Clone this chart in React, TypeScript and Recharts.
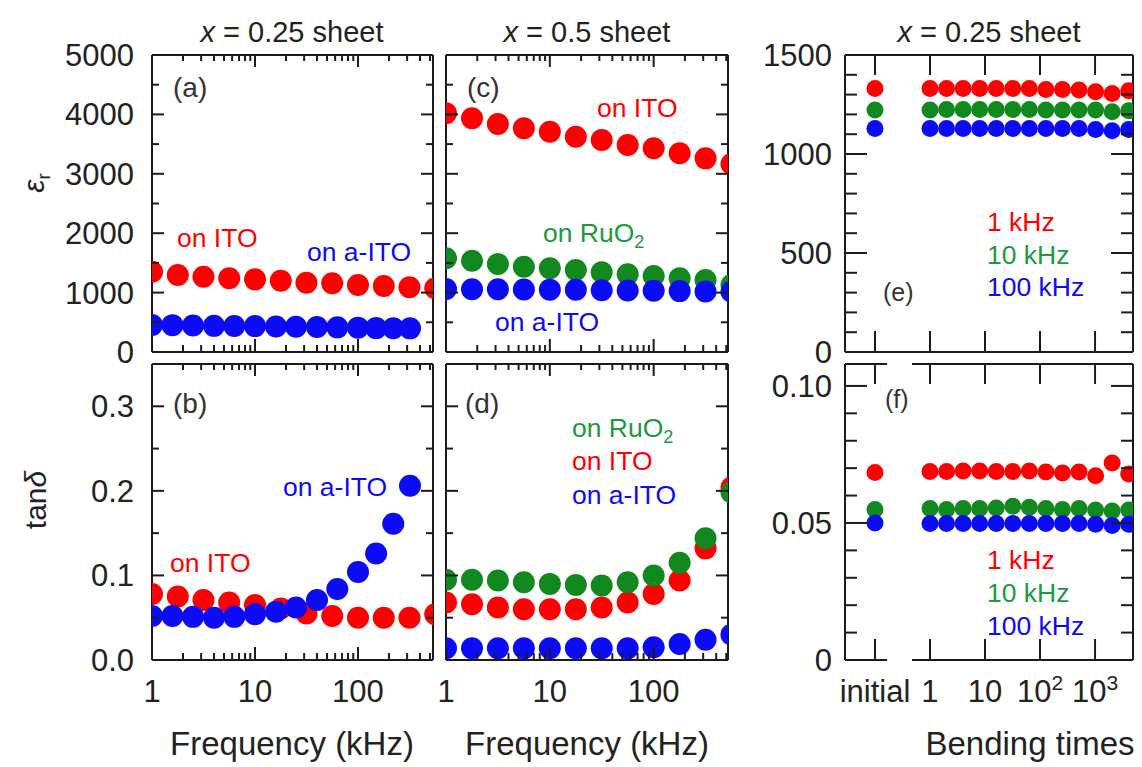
import type { ReactNode } from 'react';
import { ScatterChart, Scatter, XAxis, YAxis, ReferenceLine } from 'recharts';

const FONT = '"Liberation Sans", Arial, Helvetica, sans-serif';
const INK = '#222222';
const FRAME = '#1c1c1c';
const RED = '#ff0000';
const GREEN = '#11891f';
const BLUE = '#0b0bf5';
const GREEN_TEXT = '#1b9a3f';

// frequency grids (kHz)
const FREQ_QUARTER = [1, 1.78, 3.16, 5.62, 10, 17.8, 31.6, 56.2, 100, 178, 316, 562];
const FREQ_AITO_X025 = [1, 1.58, 2.5, 4, 6.3, 10, 16, 25, 40, 63, 100, 150, 220, 320];

// (a) eps_r, x = 0.25
const EPS_ITO_X025 = [1352, 1296, 1268, 1240, 1223, 1201, 1167, 1156, 1128, 1111, 1089, 1072];
const EPS_AITO_X025 = [455, 452, 445, 440, 438, 436, 430, 426, 420, 415, 410, 402, 400, 398];

// (b) tan delta, x = 0.25
const TAN_ITO_X025 = [0.078, 0.075, 0.071, 0.068, 0.065, 0.061, 0.055, 0.052, 0.05, 0.05, 0.05, 0.054];
const TAN_AITO_X025 = [0.052, 0.052, 0.051, 0.05, 0.051, 0.054, 0.057, 0.062, 0.071, 0.084, 0.104, 0.126, 0.161, 0.206];

// (c) eps_r, x = 0.5
const EPS_ITO_X05 = [4018, 3934, 3838, 3766, 3709, 3625, 3569, 3485, 3429, 3345, 3260, 3165];
const EPS_RUO2_X05 = [1577, 1537, 1481, 1436, 1409, 1380, 1342, 1308, 1279, 1240, 1212, 1128];
const EPS_AITO_X05 = [1060, 1058, 1055, 1052, 1050, 1048, 1040, 1035, 1030, 1025, 1020, 1015];

// (d) tan delta, x = 0.5
const TAN_ITO_X05 = [0.068, 0.066, 0.062, 0.06, 0.06, 0.06, 0.062, 0.068, 0.078, 0.094, 0.132, 0.204];
const TAN_RUO2_X05 = [0.0948, 0.0948, 0.094, 0.092, 0.09, 0.0888, 0.088, 0.092, 0.1, 0.115, 0.144, 0.198];
const TAN_AITO_X05 = [0.014, 0.014, 0.014, 0.014, 0.014, 0.014, 0.014, 0.014, 0.015, 0.019, 0.024, 0.03];

// (e)(f) bending test, x = 0.25
const BEND_TIMES = [1, 2, 4, 8, 16, 32, 64, 128, 256, 512, 1024, 2048, 4096];
const INITIAL_X = 0.1; // the "initial" state sits one decade left of 1 bend
const EPS_INITIAL = [1331, 1222, 1129]; // 1, 10, 100 kHz
const EPS_BEND_1K = [1331, 1331, 1331, 1331, 1331, 1331, 1331, 1326, 1326, 1323, 1314, 1306, 1320];
const EPS_BEND_10K = [1222, 1225, 1225, 1225, 1225, 1225, 1225, 1222, 1222, 1222, 1222, 1213, 1218];
const EPS_BEND_100K = [1129, 1129, 1129, 1129, 1129, 1129, 1129, 1129, 1129, 1129, 1124, 1117, 1124];
const TAN_INITIAL = [0.0684, 0.0549, 0.05];
const TAN_BEND_1K = [0.0688, 0.0688, 0.069, 0.069, 0.0688, 0.0688, 0.069, 0.0686, 0.0682, 0.0686, 0.0672, 0.0719, 0.0679];
const TAN_BEND_10K = [0.0553, 0.0549, 0.0553, 0.0553, 0.0555, 0.0561, 0.0557, 0.0553, 0.0549, 0.0553, 0.0547, 0.0544, 0.0547];
const TAN_BEND_100K = [0.0498, 0.0498, 0.0498, 0.0498, 0.0498, 0.0498, 0.0498, 0.0498, 0.0498, 0.0498, 0.0495, 0.0491, 0.0495];

// ticks
const FREQ_MAJOR = [1, 10, 100];
const FREQ_MINOR = [2, 3, 4, 5, 6, 7, 8, 9, 20, 30, 40, 50, 60, 70, 80, 90, 200, 300, 400, 500];
const EPS_MAJOR = [0, 1000, 2000, 3000, 4000, 5000];
const EPS_MINOR = [500, 1500, 2500, 3500, 4500];
const TAN_MAJOR = [0, 0.1, 0.2, 0.3];
const TAN_MINOR = [0.05, 0.15, 0.25];
const BEND_TICKS = [0.1, 1, 10, 100, 1000];
const BEND_TICK_TEXT = ['initial', '1', '10', '10', '10'];
const BEND_TICK_SUP = ['', '', '', '2', '3'];
const BEND_EPS_MAJOR = [0, 500, 1000, 1500];
const BEND_EPS_MINOR = [100, 200, 300, 400, 600, 700, 800, 900, 1100, 1200, 1300, 1400];
const BEND_TAN_MAJOR = [0, 0.05, 0.1];
const BEND_TAN_MINOR = [0.01, 0.02, 0.03, 0.04, 0.06, 0.07, 0.08, 0.09];
const BEND_GAP = [0.166, 0.47]; // axis break between "initial" and 1

interface Series { x: number[]; y: number[]; color: string }
interface Box { left: number; top: number; width: number; height: number }
interface PanelProps {
  box: Box;
  series: Series[];
  xDomain: [number, number];
  xMajor: number[];
  xMinor: number[];
  xLabel?: (v: number) => ReactNode;
  yDomain: [number, number];
  yMajor: number[];
  yMinor: number[];
  yLabel?: (v: number) => string;
  r: number;
  xLen: [number, number];
  yLen: [number, number];
  yGap: number;
  xGap?: number[];
}

// outer space around each plot box; every axis takes 1px of it
const M = { top: 30, right: 30, bottom: 90, left: 120 };
const CHART_MARGIN = { top: M.top - 1, right: M.right - 1, bottom: M.bottom - 1, left: M.left - 1 };
const LINE = { stroke: FRAME, strokeWidth: 2 };

function Panel(p: PanelProps) {
  const { box, series, r } = p;
  const xTicks = [...p.xMajor, ...p.xMinor].sort((a, b) => a - b);
  const yTicks = [...p.yMajor, ...p.yMinor].sort((a, b) => a - b);
  const xl = (v: number) => (p.xMajor.includes(v) ? p.xLen[0] : p.xLen[1]);
  const yl = (v: number) => (p.yMajor.includes(v) ? p.yLen[0] : p.yLen[1]);
  const label = { fontFamily: FONT, fontSize: 31, fill: INK };

  const bottomTick = (t: any) => {
    const v = t.payload.value;
    const y = t.y - 1;
    return (
      <g>
        <line x1={t.x} x2={t.x} y1={y} y2={y - xl(v)} {...LINE} />
        {p.xLabel && p.xMajor.includes(v) ? (
          <text x={t.x} y={y + 43} textAnchor="middle" {...label}>{p.xLabel(v)}</text>
        ) : null}
      </g>
    );
  };
  const topTick = (t: any) => (
    <line x1={t.x} x2={t.x} y1={t.y} y2={t.y + xl(t.payload.value)} {...LINE} />
  );
  const leftTick = (t: any) => {
    const v = t.payload.value;
    return (
      <g>
        <line x1={t.x} x2={t.x + yl(v)} y1={t.y} y2={t.y} {...LINE} />
        {p.yLabel && p.yMajor.includes(v) ? (
          <text x={t.x - p.yGap} y={t.y + 11} textAnchor="end" {...label}>{p.yLabel(v)}</text>
        ) : null}
      </g>
    );
  };
  const rightTick = (t: any) => (
    <line x1={t.x} x2={t.x - yl(t.payload.value)} y1={t.y} y2={t.y} {...LINE} />
  );

  const axisLine = p.xGap ? false : LINE;
  const [x0, x1] = p.xDomain;
  const [y0, y1] = p.yDomain;

  return (
    <div style={{ position: 'absolute', left: box.left - M.left, top: box.top - M.top }}>
      <ScatterChart width={box.width + M.left + M.right} height={box.height + M.top + M.bottom} margin={CHART_MARGIN}>
        <XAxis xAxisId="b" dataKey="x" type="number" scale="log" domain={p.xDomain} allowDataOverflow
          ticks={xTicks} interval={0} height={1} tickSize={0} tickMargin={0} tickLine={false}
          axisLine={axisLine} tick={bottomTick} />
        <XAxis xAxisId="t" orientation="top" dataKey="x" type="number" scale="log" domain={p.xDomain} allowDataOverflow
          ticks={xTicks} interval={0} height={1} tickSize={0} tickMargin={0} tickLine={false}
          axisLine={axisLine} tick={topTick} />
        <YAxis yAxisId="l" dataKey="y" type="number" domain={p.yDomain} allowDataOverflow
          ticks={yTicks} interval={0} width={1} tickSize={0} tickMargin={0} tickLine={false}
          axisLine={LINE} tick={leftTick} />
        <YAxis yAxisId="r" orientation="right" dataKey="y" type="number" domain={p.yDomain} allowDataOverflow
          ticks={yTicks} interval={0} width={1} tickSize={0} tickMargin={0} tickLine={false}
          axisLine={LINE} tick={rightTick} />
        {p.xGap
          ? [y0, y1].flatMap((yy) => [
              <ReferenceLine key={`a${yy}`} xAxisId="b" yAxisId="l" ifOverflow="visible" {...LINE}
                segment={[{ x: x0, y: yy }, { x: p.xGap![0], y: yy }]} />,
              <ReferenceLine key={`b${yy}`} xAxisId="b" yAxisId="l" ifOverflow="visible" {...LINE}
                segment={[{ x: p.xGap![1], y: yy }, { x: x1, y: yy }]} />,
            ])
          : null}
        {series.map((s, i) => (
          <Scatter key={i} xAxisId="b" yAxisId="l" isAnimationActive={false}
            data={s.x.map((x, j) => ({ x, y: s.y[j] }))}
            shape={(d: any) => <circle cx={d.cx} cy={d.cy} r={r} fill={s.color} />} />
        ))}
      </ScatterChart>
    </div>
  );
}

const bendX = [INITIAL_X, ...BEND_TIMES];
const freqLabel = (v: number) => String(v);
const bendLabel = (v: number) => {
  const i = BEND_TICKS.indexOf(v);
  return (
    <>
      {BEND_TICK_TEXT[i]}
      {BEND_TICK_SUP[i] ? <tspan dy={-12} fontSize={21}>{BEND_TICK_SUP[i]}</tspan> : null}
    </>
  );
};

const txt = { fontFamily: FONT, fill: INK };

function Note({ x, y, color, size = 26.5, children }: { x: number; y: number; color: string; size?: number; children: ReactNode }) {
  return <text x={x} y={y} fontFamily={FONT} fontSize={size} fill={color}>{children}</text>;
}

const RuO2 = (
  <>on RuO<tspan dy={6} fontSize={18}>2</tspan></>
);

export default function App() {
  const freqTicks: [number, number] = [12, 6];
  return (
    <div style={{ position: 'absolute', left: 0, top: 0, width: 1142, height: 767, background: '#fff', overflow: 'hidden' }}>
      {/* (a) */}
      <Panel box={{ left: 152, top: 55, width: 281, height: 297 }}
        series={[
          { x: FREQ_QUARTER, y: EPS_ITO_X025, color: RED },
          { x: FREQ_AITO_X025, y: EPS_AITO_X025, color: BLUE },
        ]}
        xDomain={[1, 535]} xMajor={FREQ_MAJOR} xMinor={FREQ_MINOR}
        yDomain={[0, 5000]} yMajor={EPS_MAJOR} yMinor={EPS_MINOR} yLabel={(v) => String(v)}
        r={11} xLen={freqTicks} yLen={[12, 7]} yGap={18} />
      {/* (b) */}
      <Panel box={{ left: 152, top: 364, width: 281, height: 296 }}
        series={[
          { x: FREQ_QUARTER, y: TAN_ITO_X025, color: RED },
          { x: FREQ_AITO_X025, y: TAN_AITO_X025, color: BLUE },
        ]}
        xDomain={[1, 535]} xMajor={FREQ_MAJOR} xMinor={FREQ_MINOR} xLabel={freqLabel}
        yDomain={[0, 0.35]} yMajor={TAN_MAJOR} yMinor={TAN_MINOR} yLabel={(v) => v.toFixed(1)}
        r={11} xLen={freqTicks} yLen={[12, 7]} yGap={18} />
      {/* (c) */}
      <Panel box={{ left: 446, top: 55, width: 282, height: 297 }}
        series={[
          { x: FREQ_QUARTER, y: EPS_ITO_X05, color: RED },
          { x: FREQ_QUARTER, y: EPS_RUO2_X05, color: GREEN },
          { x: FREQ_QUARTER, y: EPS_AITO_X05, color: BLUE },
        ]}
        xDomain={[1, 520]} xMajor={FREQ_MAJOR} xMinor={FREQ_MINOR}
        yDomain={[0, 5000]} yMajor={EPS_MAJOR} yMinor={EPS_MINOR}
        r={11} xLen={freqTicks} yLen={[12, 7]} yGap={18} />
      {/* (d) */}
      <Panel box={{ left: 446, top: 364, width: 282, height: 296 }}
        series={[
          { x: FREQ_QUARTER, y: TAN_ITO_X05, color: RED },
          { x: FREQ_QUARTER, y: TAN_RUO2_X05, color: GREEN },
          { x: FREQ_QUARTER, y: TAN_AITO_X05, color: BLUE },
        ]}
        xDomain={[1, 520]} xMajor={FREQ_MAJOR} xMinor={FREQ_MINOR} xLabel={freqLabel}
        yDomain={[0, 0.35]} yMajor={TAN_MAJOR} yMinor={TAN_MINOR}
        r={11} xLen={freqTicks} yLen={[12, 7]} yGap={18} />
      {/* (e) */}
      <Panel box={{ left: 845, top: 55, width: 288, height: 297 }}
        series={[
          { x: bendX, y: [EPS_INITIAL[0], ...EPS_BEND_1K], color: RED },
          { x: bendX, y: [EPS_INITIAL[1], ...EPS_BEND_10K], color: GREEN },
          { x: bendX, y: [EPS_INITIAL[2], ...EPS_BEND_100K], color: BLUE },
        ]}
        xDomain={[0.0285, 4900]} xMajor={BEND_TICKS} xMinor={[]}
        yDomain={[0, 1500]} yMajor={BEND_EPS_MAJOR} yMinor={BEND_EPS_MINOR} yLabel={(v) => String(v)}
        r={8.5} xLen={[20, 20]} yLen={[22, 12]} yGap={13} />
      {/* (f) */}
      <Panel box={{ left: 845, top: 364, width: 288, height: 296 }}
        series={[
          { x: bendX, y: [TAN_INITIAL[0], ...TAN_BEND_1K], color: RED },
          { x: bendX, y: [TAN_INITIAL[1], ...TAN_BEND_10K], color: GREEN },
          { x: bendX, y: [TAN_INITIAL[2], ...TAN_BEND_100K], color: BLUE },
        ]}
        xDomain={[0.0285, 4900]} xMajor={BEND_TICKS} xMinor={[]} xLabel={bendLabel}
        yDomain={[0, 0.108]} yMajor={BEND_TAN_MAJOR} yMinor={BEND_TAN_MINOR}
        yLabel={(v) => (v === 0 ? '0' : v.toFixed(2))}
        r={8.5} xLen={[20, 20]} yLen={[22, 12]} yGap={13} xGap={BEND_GAP} />

      <svg width={1142} height={767} style={{ position: 'absolute', left: 0, top: 0, pointerEvents: 'none' }}>
        {/* column titles */}
        <text x={292} y={42} textAnchor="middle" fontSize={29} {...txt}>
          <tspan fontStyle="italic">x</tspan> = 0.25 sheet
        </text>
        <text x={587} y={42} textAnchor="middle" fontSize={29} {...txt}>
          <tspan fontStyle="italic">x</tspan> = 0.5 sheet
        </text>
        <text x={989} y={42} textAnchor="middle" fontSize={29} {...txt}>
          <tspan fontStyle="italic">x</tspan> = 0.25 sheet
        </text>

        {/* axis titles */}
        <text x={292} y={755} textAnchor="middle" fontSize={33} {...txt}>Frequency (kHz)</text>
        <text x={587} y={755} textAnchor="middle" fontSize={33} {...txt}>Frequency (kHz)</text>
        <text x={1030} y={755} textAnchor="middle" fontSize={33} {...txt}>Bending times</text>
        <text transform="translate(44,183) rotate(-90)" textAnchor="middle" fontSize={30} {...txt}>
          <tspan fontStyle="italic">ε</tspan><tspan dy={6} fontSize={19}>r</tspan>
        </text>
        <text transform="translate(46,500) rotate(-90)" textAnchor="middle" fontSize={30} {...txt}>
          tan<tspan fontStyle="italic">δ</tspan>
        </text>

        {/* panel letters */}
        <Note x={173} y={97} color="#333" size={28}>(a)</Note>
        <Note x={467} y={97} color="#333" size={28}>(c)</Note>
        <Note x={173} y={413} color="#333" size={28}>(b)</Note>
        <Note x={465} y={413} color="#333" size={28}>(d)</Note>
        <Note x={883} y={301} color="#333" size={25}>(e)</Note>
        <Note x={885} y={408} color="#333" size={25}>(f)</Note>

        {/* series notes */}
        <Note x={177} y={247} color={RED}>on ITO</Note>
        <Note x={307} y={261} color={BLUE}>on a-ITO</Note>
        <Note x={597} y={117} color={RED}>on ITO</Note>
        <Note x={543} y={242} color={GREEN_TEXT}>{RuO2}</Note>
        <Note x={495} y={331} color={BLUE}>on a-ITO</Note>
        <Note x={283} y={496} color={BLUE}>on a-ITO</Note>
        <Note x={170} y={572} color={RED}>on ITO</Note>
        <Note x={572} y={437} color={GREEN_TEXT}>{RuO2}</Note>
        <Note x={572} y={470} color={RED}>on ITO</Note>
        <Note x={572} y={504} color={BLUE}>on a-ITO</Note>
        <Note x={987} y={231} color={RED}>1 kHz</Note>
        <Note x={987} y={264} color={GREEN_TEXT}>10 kHz</Note>
        <Note x={987} y={296} color={BLUE}>100 kHz</Note>
        <Note x={987} y={569} color={RED}>1 kHz</Note>
        <Note x={987} y={602} color={GREEN_TEXT}>10 kHz</Note>
        <Note x={987} y={635} color={BLUE}>100 kHz</Note>
      </svg>
    </div>
  );
}
